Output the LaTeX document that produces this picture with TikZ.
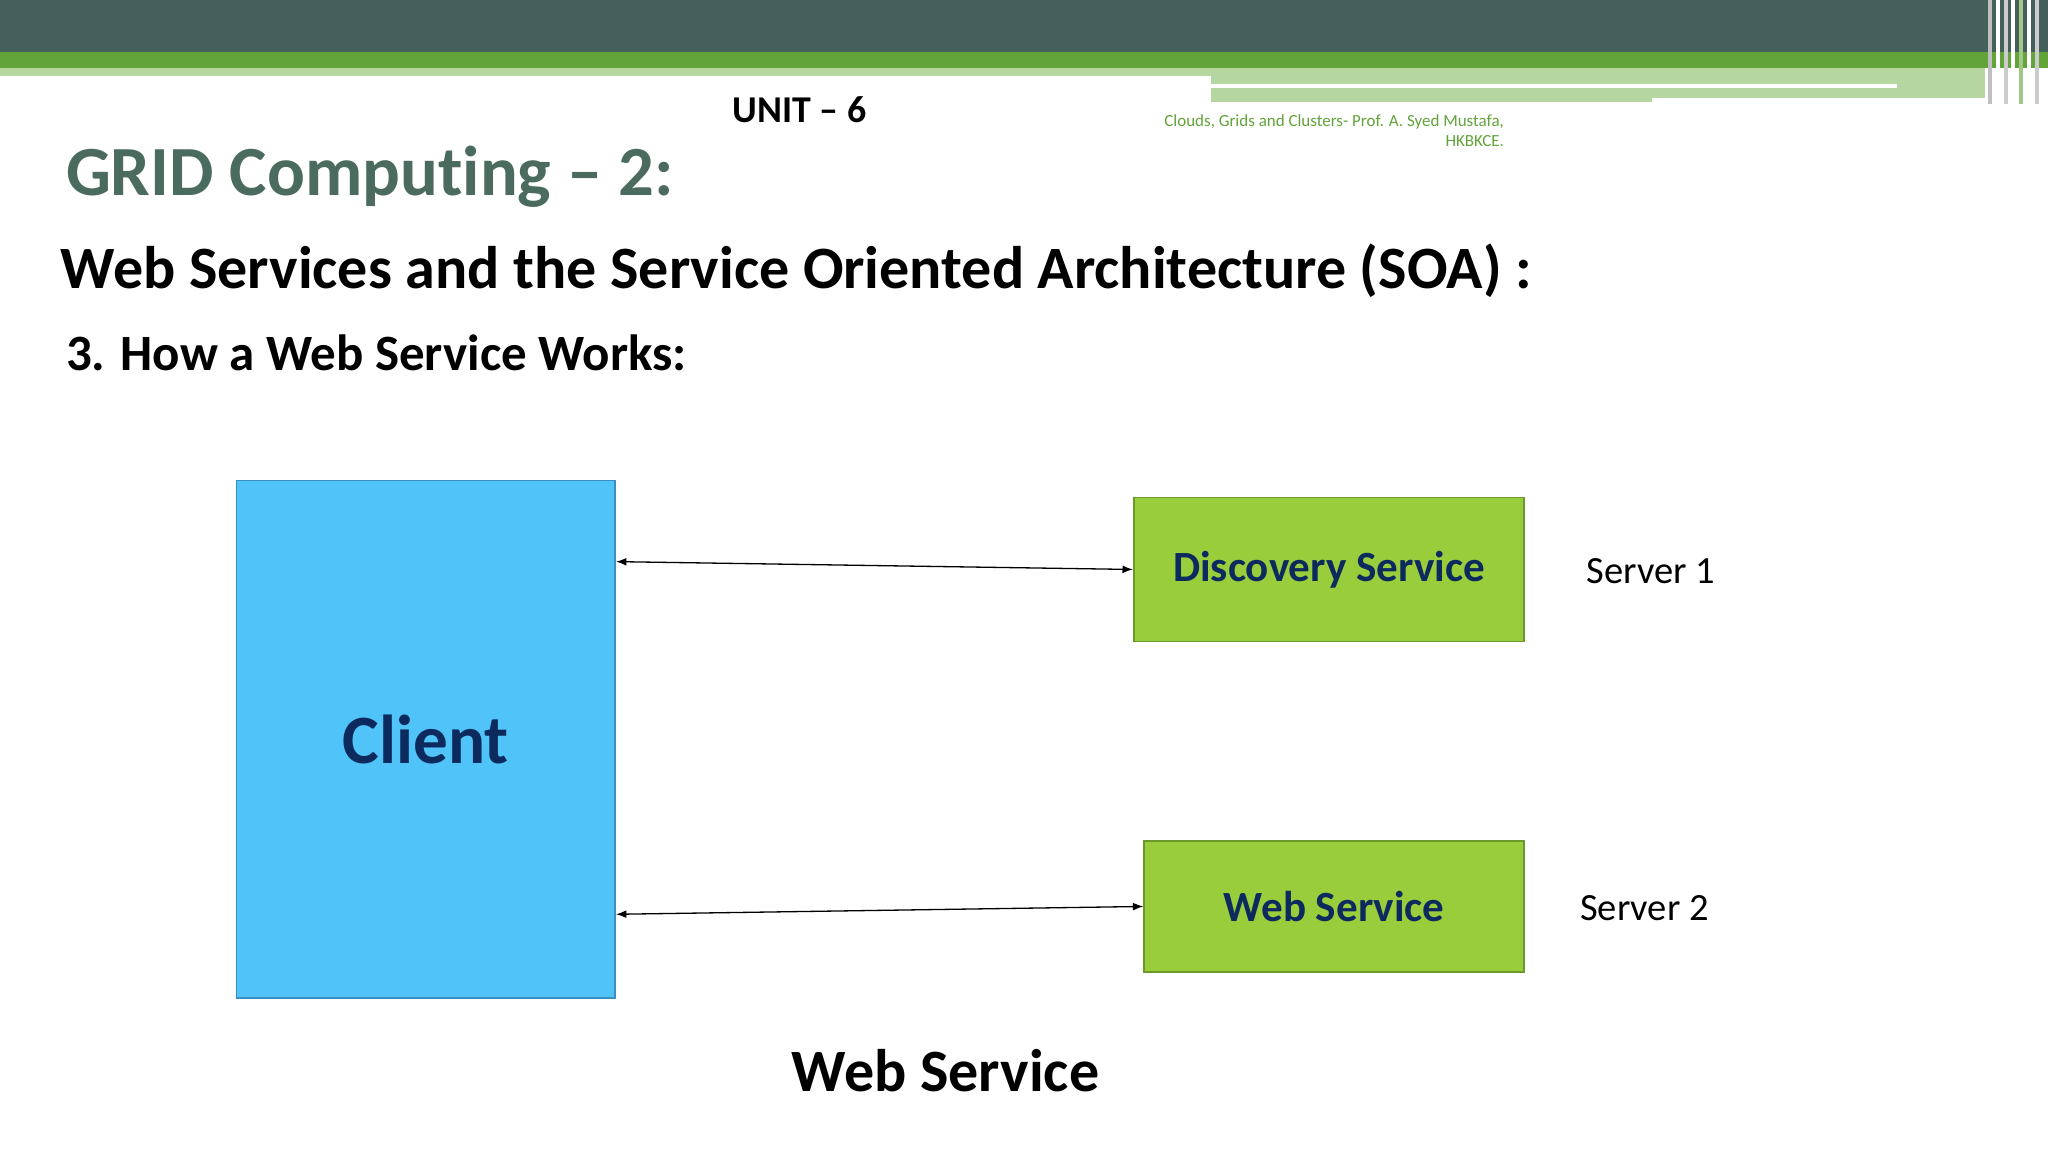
\documentclass[tikz,border=0pt]{standalone}
\usepackage{fontspec}
\setmainfont{Carlito}[Ligatures=NoCommon]
\usetikzlibrary{arrows.meta}
\begin{document}
\begin{tikzpicture}[x=1pt,y=-1pt,
  box/.style={draw=#1,line width=1.2pt,inner sep=0pt},
  lab/.style={font=\bfseries\fontsize{33}{38}\selectfont,text=navy},
  conn/.style={line width=1pt,<->,>={Latex[length=8pt,width=6pt]}}]
\definecolor{dark}{HTML}{45605A}
\definecolor{grn}{HTML}{62A33A}
\definecolor{lgrn}{HTML}{B5D6A0}
\definecolor{navy}{HTML}{0D2A5E}
\definecolor{cli}{HTML}{50C3F8}
\definecolor{clib}{HTML}{3A8FC0}
\definecolor{lime}{HTML}{9ACD3C}
\definecolor{limeb}{HTML}{6C9A2A}
\definecolor{ttl}{HTML}{4A6B5E}
\useasboundingbox (0,0) rectangle (1568,882);
\fill[white] (0,0) rectangle (1568,882);
% banner
\fill[dark] (0,0) rectangle (1568,40);
\fill[grn] (0,40) rectangle (1568,52);
\fill[lgrn] (0,52) rectangle (927,58);
\fill[lgrn] (927,52) rectangle (1520,78);
\fill[white] (927,64) rectangle (1452,67);
\fill[white] (1265,75) rectangle (1520,78);
\foreach \x/\c in {1522/gray!50,1528/white,1534/gray!40,1540/white,1546/grn!60,1552/white,1558/gray!40}
  \fill[\c] (\x,0) rectangle (\x+3,80);
% texts
\node[font=\bfseries\fontsize{29}{34}\selectfont] (unit) at (612,84) {UNIT – 6};
\node[font=\fontsize{13}{15.5}\selectfont,text=grn,align=right,anchor=north east] (cr) at (1155,84) {Clouds, Grids and Clusters- Prof. A. Syed Mustafa,\\HKBKCE.};
\node[font=\bfseries\fontsize{54}{60}\selectfont,text=ttl,anchor=west] (t1) at (47,135) {GRID Computing – 2:};
\node[font=\bfseries\fontsize{46}{52}\selectfont,anchor=west] (t2) at (43,207) {Web Services and the Service Oriented Architecture (SOA) :};
\node[font=\bfseries\fontsize{39}{44}\selectfont,anchor=west] (t3) at (47,270) {3. How a Web Service Works:};
% boxes
\node[box=clib,fill=cli,minimum width=290pt,minimum height=396pt,font=\bfseries\fontsize{53}{60}\selectfont,text=navy] (client) at (326,566) {Client};
\node[box=limeb,fill=lime,minimum width=299pt,minimum height=110pt,lab] (disc) at (1017.5,436) {Discovery Service};
\node[box=limeb,fill=lime,minimum width=291pt,minimum height=100pt,lab] (ws) at (1021.5,694) {Web Service};
\coordinate (c1) at (client.east |- 0,430);
\coordinate (d1) at (disc.west |- 0,436);
\coordinate (c2) at (client.east |- 0,700);
\coordinate (w1) at (ws.west |- 0,694);
\draw[conn] (c1) -- (d1);
\draw[conn] (c2) -- (w1);
\node[font=\fontsize{29.5}{34}\selectfont] (s1) at (1264,437) {Server 1};
\node[font=\fontsize{29.5}{34}\selectfont] (s2) at (1259,695) {Server 2};
\node[font=\bfseries\fontsize{46}{52}\selectfont] (cap) at (724,820) {Web Service};
\end{tikzpicture}
\end{document}
